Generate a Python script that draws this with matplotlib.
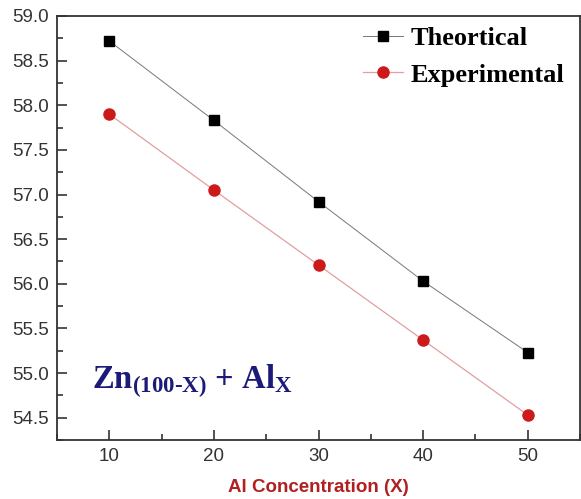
import matplotlib
matplotlib.use('Agg')
import matplotlib.pyplot as plt
from matplotlib.ticker import MultipleLocator, FormatStrFormatter

al_conc = [10, 20, 30, 40, 50]
theortical = [58.72, 57.83, 56.92, 56.03, 55.23]
experimental = [57.90, 57.05, 56.21, 55.37, 54.53]

plt.rcParams['mathtext.fontset'] = 'custom'
plt.rcParams['mathtext.rm'] = 'Liberation Serif:bold'
plt.rcParams['mathtext.bf'] = 'Liberation Serif:bold'
plt.rcParams['mathtext.it'] = 'Liberation Serif:bold'

fig = plt.figure(figsize=(5.81, 4.99), dpi=100)
ax = fig.add_axes([57/581, 1 - 440/499, 523/581, 424/499])

ax.plot(al_conc, theortical, color='#777777', lw=0.7, marker='s', ms=7,
        mfc='black', mec='black', label='Theortical')
ax.plot(al_conc, experimental, color='#e0a0a0', lw=0.9, marker='o', ms=8,
        mfc='#cc1a1a', mec='#cc1a1a', label='Experimental')

ax.set_xlim(5, 55)
ax.set_ylim(54.25, 59.0)
ax.xaxis.set_major_locator(MultipleLocator(10))
ax.xaxis.set_minor_locator(MultipleLocator(5))
ax.yaxis.set_major_locator(MultipleLocator(0.5))
ax.yaxis.set_minor_locator(MultipleLocator(0.25))
ax.yaxis.set_major_formatter(FormatStrFormatter('%.1f'))

for s in ax.spines.values():
    s.set_linewidth(1.3)
    s.set_color('#333333')
ax.tick_params(which='both', direction='in', top=False, right=False,
               labelsize=13.5, labelcolor='#333333', color='#333333', width=1.2)
ax.tick_params(which='major', length=7, pad=6)
ax.tick_params(which='minor', length=4.5)
for lab in ax.get_xticklabels() + ax.get_yticklabels():
    lab.set_family('Liberation Sans')

ax.set_xlabel('Al Concentration (X)', fontsize=13.5, fontweight='bold',
              color='#b02020', family='Liberation Sans', labelpad=10)

ax.text(0.067, 0.123, r'Zn$_{\mathrm{(100\text{-}X)}}$ + Al$_{\mathrm{X}}$',
        transform=ax.transAxes, fontsize=23.5, fontweight='bold', va='baseline',
        color='#1c1c78', family='Liberation Serif')

leg = ax.legend(loc='upper right', frameon=False,
                prop={'family': 'Liberation Serif', 'weight': 'bold', 'size': 19},
                handlelength=1.5, handletextpad=0.3, borderaxespad=0.0,
                labelspacing=0.5, bbox_to_anchor=(0.99, 1.0))

fig.savefig('out.png', dpi=100)
